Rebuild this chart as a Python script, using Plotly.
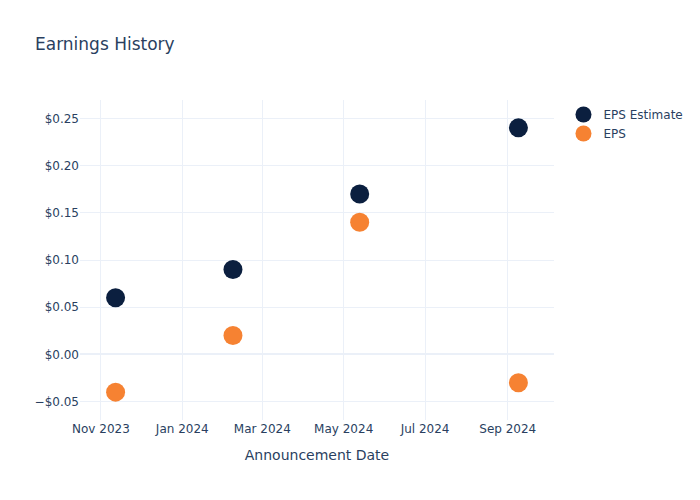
import plotly.graph_objects as go

dates = ["2023-11-12", "2024-02-08", "2024-05-13", "2024-09-09"]
eps_estimate = [0.06, 0.09, 0.17, 0.24]
eps_actual = [-0.04, 0.02, 0.14, -0.03]

fig = go.Figure()
fig.add_trace(go.Scatter(x=dates, y=eps_estimate, mode="markers", name="EPS Estimate",
                         marker=dict(color="#0b1f3f", size=19)))
fig.add_trace(go.Scatter(x=dates, y=eps_actual, mode="markers", name="EPS",
                         marker=dict(color="#f68232", size=19)))
fig.update_layout(
    template="plotly_white",
    width=700, height=500,
    font=dict(family="DejaVu Sans"),
    title=dict(text="Earnings History"),
    xaxis=dict(title=dict(text="Announcement Date"), tickformat="%b %Y"),
    yaxis=dict(tickformat="$.2f"),
)
fig.write_html("out.html")
